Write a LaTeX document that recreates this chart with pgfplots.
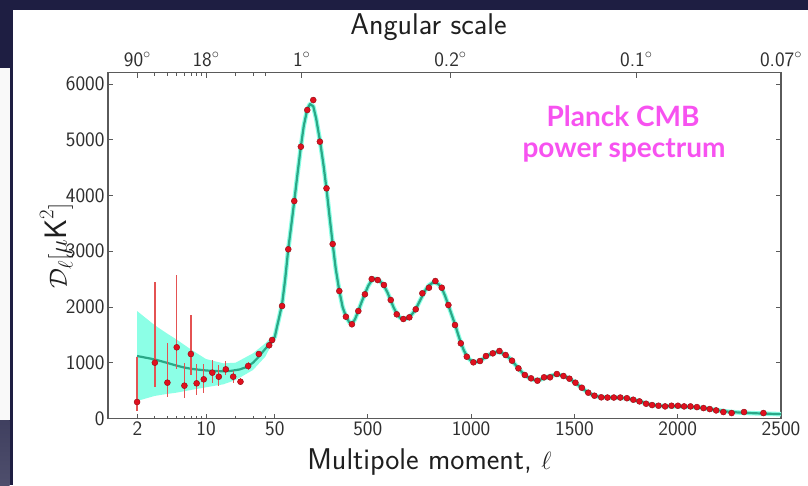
\documentclass[border=0pt]{standalone}
\usepackage{fontspec}
\usepackage{pgfplots}
\pgfplotsset{compat=1.18}
\usepackage{pgfplotstable}
\newfontfamily\plkfont{Lato}

\definecolor{navy}{HTML}{1E1E42}
\definecolor{leftgray}{HTML}{4E4E6C}
\definecolor{axgray}{HTML}{5A5A5A}
\definecolor{fitgreen}{HTML}{2AA887}
\definecolor{cvband}{HTML}{8CFFE6}
\definecolor{ptred}{HTML}{E0101E}
\definecolor{errred}{HTML}{E45252}
\definecolor{plkpink}{HTML}{F752F0}

% low-ell points (log-binned) with asymmetric errors
\pgfplotstableread{
l     D     ep    em
2.00  296   813   156
3.03  1001  1453  441
4.06  643   717   252
5.05  1277  1297  395
6.04  589   401   227
7.03  1157  700   377
8.04  631   347   209
9.5   703   269   251
11.6  822   227   179
13.5  750   204   167
15.9  882   149   102
18.9  750   107   107
22.4  660   60    60
26.8  942   70    70
34.4  1157  40    40
43.8  1313  40    40
46.9  1408  40    40
}\lowell

% high-ell binned points
\pgfplotstableread{
l     D
85    2018
115   3035
144   3901
176   4876
207   5534
236   5713
268   4966
300   4129
330   3130
362   2287
394   1826
423   1690
454   1928
486   2228
519   2502
548   2484
578   2395
611   2126
640   1869
672   1785
701   1815
732   1959
764   2246
796   2346
827   2466
858   2346
890   2036
922   1677
950   1349
979   1109
1011  1008
1043  1031
1072  1121
1105  1169
1137  1211
1167  1139
1198  1037
1229  900
1260  780
1290  721
1321  678
1353  739
1382  739
1415  798
1447  762
1476  714
1505  642
1536  552
1567  463
1597  409
1630  380
1660  376
1691  376
1722  376
1754  364
1785  337
1815  307
1847  265
1876  241
1907  229
1939  217
1970  229
2001  229
2031  217
2062  217
2093  205
2125  187
2155  169
2186  145
2221  116
2261  98
2321  116
2415  98
}\highell

% best-fit model spectrum
\pgfplotstableread{
l     D
2     1121
3     1061
4     1000
5     950
6     915
7     893
8     880
10    862
12    852
15    848
18    855
22    880
26    925
30    1000
34    1100
40    1250
44    1330
50    1467
60    1640
70    1800
85    2050
100   2500
115   3040
130   3480
144   3900
160   4400
176   4880
190   5250
207   5550
220   5640
236   5600
250   5380
268   4990
285   4560
300   4120
315   3620
330   3130
345   2680
362   2290
378   2000
394   1830
410   1730
423   1700
438   1780
454   1930
470   2090
486   2240
502   2380
519   2480
535   2510
548   2490
563   2450
578   2380
594   2270
611   2120
625   1990
640   1880
655   1810
672   1785
686   1790
701   1820
716   1880
732   1960
748   2080
764   2200
780   2310
796   2390
812   2430
827   2440
842   2410
858   2340
874   2200
890   2030
906   1860
922   1690
936   1520
950   1360
965   1220
979   1120
995   1050
1011  1020
1027  1015
1043  1035
1058  1070
1072  1110
1090  1150
1105  1175
1121  1190
1137  1190
1152  1170
1167  1135
1183  1090
1198  1035
1213  970
1229  900
1245  835
1260  780
1275  740
1290  712
1305  695
1321  690
1337  700
1353  720
1367  742
1382  762
1398  778
1415  785
1430  780
1447  765
1461  742
1476  712
1490  680
1505  640
1520  595
1536  550
1551  505
1567  465
1582  432
1597  410
1613  395
1630  385
1660  378
1691  375
1722  372
1754  362
1785  338
1815  308
1847  272
1876  245
1907  230
1939  222
1970  220
2001  218
2031  213
2062  207
2093  199
2125  186
2155  170
2186  152
2221  133
2261  116
2321  102
2415  88
2500  78
}\model

% cosmic-variance band at low ell: upper edge, then lower edge backwards
\pgfplotstableread{
l     D
2     1928
3     1677
4     1528
5     1420
7     1241
10    1067
15    990
20    1001
30    1169
40    1349
50    1528
50    1439
40    1109
30    870
20    690
15    613
10    560
7     511
5     463
4     440
3     404
2     314
}\cvband

% hybrid axis: logarithmic below ell=50, linear above
\pgfplotsset{
  hybridx/.style={
    x coord trafo/.code={\pgfmathparse{##1<50 ? 50+477*log10(##1/50) : ##1}},
    xmin=1.007, xmax=2500,
  },
  common/.style={
    scale only axis, width=673pt, height=345.6pt,
    hybridx,
    tick align=inside,
    major tick length=5pt, minor tick length=3pt,
    axis line style={axgray, line width=1.1pt},
    tick style={axgray, line width=0.8pt},
    /pgf/number format/assume math mode=true,
    ticklabel style={font=\fontsize{20.5}{23}\selectfont\sffamily, text=black!82},
    label style={font=\fontsize{30}{33}\selectfont\sffamily, text=black!88},
  },
}

\begin{document}
\begin{tikzpicture}
\useasboundingbox (0pt,0pt) rectangle (808pt,485pt);
% slide background
\fill[navy] (0pt,0pt) rectangle (808pt,485pt);
\fill[white] (13pt,0pt) rectangle (808pt,475pt);
\fill[white!95!gray] (0pt,65pt) rectangle (9.5pt,417pt);
\shade[top color=leftgray!70!navy, bottom color=leftgray] (0pt,0pt) rectangle (9.5pt,65pt);

\begin{axis}[common,
  name=main,
  at={(108pt,66.5pt)}, anchor=south west,
  ymin=0, ymax=6200,
  xtick={2,10,50,500,1000,1500,2000,2500},
  xticklabels={2,10,50,500,1000,1500,2000,2500},
  minor xtick={3,4,5,6,7,8,9,20,30,40},
  xtick pos=lower,
  ytick={0,1000,2000,3000,4000,5000,6000},
  yticklabels={0,1000,2000,3000,4000,5000,6000},
  xlabel={Multipole moment, $\ell$},
  ylabel={$\mathcal{D}_\ell[\mu\textsf{K}^2]$},
  xlabel style={yshift=-6pt, xshift=-15pt},
  ylabel style={yshift=-14pt, font=\fontsize{31}{34}\selectfont\sffamily},
  clip=true,
]
  \addplot[fill=cvband, draw=none] table[x=l, y=D] {\cvband};
  \addplot[cvband, line width=4.5pt, line join=round] table[x=l, y=D] {\model};
  \addplot[fitgreen, line width=2.2pt, line join=round] table[x=l, y=D] {\model};
  \addplot[only marks, mark=*, mark size=3pt,
    mark options={fill=ptred, draw=ptred!65!black, line width=0.4pt},
    error bars/.cd, y dir=both, y explicit,
    error bar style={color=errred, line width=1.3pt}, error mark=none]
    table[x=l, y=D, y error plus=ep, y error minus=em] {\lowell};
  \addplot[only marks, mark=*, mark size=3pt,
    mark options={fill=ptred, draw=ptred!65!black, line width=0.4pt}]
    table[x=l, y=D] {\highell};
\end{axis}

\begin{axis}[common,
  at={(main.south west)}, anchor=south west,
  ymin=0, ymax=1,
  axis x line*=top, axis y line=none,
  xtick={2,10,180,900,1800,2500},
  xticklabels={90$^\circ$,18$^\circ$,1$^\circ$,0.2$^\circ$,0.1$^\circ$,0.07$^\circ$},
  minor xtick={3,4,5,6,7,8,9,20,30,40},
  xticklabel style={yshift=3pt},
  xlabel={Angular scale},
  xlabel style={yshift=5pt, xshift=-16pt},
]
\end{axis}

\node[font=\plkfont\bfseries\fontsize{28}{32}\selectfont, text=plkpink, anchor=base] at (623pt,358pt) {Planck CMB};
\node[font=\plkfont\bfseries\fontsize{28}{32}\selectfont, text=plkpink, anchor=base] at (624pt,327pt) {power spectrum};
\end{tikzpicture}
\end{document}
